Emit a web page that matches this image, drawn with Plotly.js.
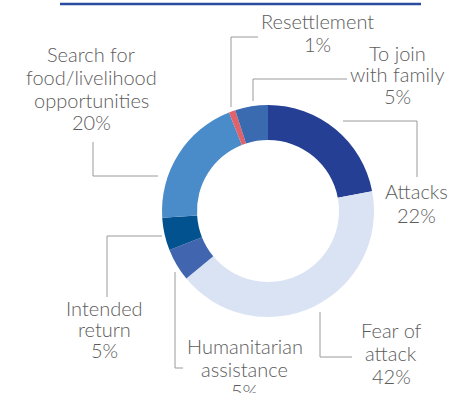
<!DOCTYPE html>
<html>
<head>
<meta charset="utf-8">
<script src="https://cdn.plot.ly/plotly-3.0.1.min.js"></script>
<style>html,body{margin:0;padding:0;background:#fff;}#chart{width:450px;height:393px;}</style>
</head>
<body>
<div id="chart"></div>
<script>
// Data
var categories = ["Attacks", "Fear of attack", "Humanitarian assistance", "Intended return",
                  "Search for food/livelihood opportunities", "Resettlement", "To join with family"];
var values = [22, 42, 5, 5, 20, 1, 5];
var labelLines = [["Attacks"], ["Fear of", "attack"], ["Humanitarian", "assistance"], ["Intended", "return"],
                  ["Search for", "food/livelihood", "opportunities"], ["Resettlement"], ["To join", "with family"]];
var colors = ["#243f93", "#dae3f3", "#4265b0", "#01528f", "#4a8bc9", "#e0626a", "#3a6ab0"];

var W = 450, H = 393;
function px(x){ return x / W; }
function py(y){ return 1 - y / H; }

// pie geometry (pixels)
var cx = 268, cy = 211, R = 106;

// label placement: [center x, first line center y, line step] in pixels
var labelPos = [[416, 193, 23], [391, 331, 23.3], [245, 347.5, 22.5], [104, 309, 21],
                [91, 56, 22.6], [317, 22.5, 23.3], [397, 54, 21.7]];
var leaders = [
  [[343,121],[417,121],[417,177]],
  [[320,312],[320,357],[352,357]],
  [[175,272],[175,368],[183,368]],
  [[162,236],[107,236],[107,297]],
  [[158,176],[93,176],[93,142]],
  [[231,107],[231,37],[258,37]],
  [[253,101],[253,79],[347,79]]
];

var trace = {
  type: "pie",
  labels: categories,
  values: values,
  sort: false,
  direction: "clockwise",
  rotation: 0,
  hole: 0.67,
  textinfo: "none",
  hoverinfo: "label+percent",
  marker: {colors: colors, line: {width: 0}},
  domain: {x: [px(cx - R), px(cx + R)], y: [py(cy + R), py(cy - R)]},
  showlegend: false
};

var total = values.reduce(function(a,b){return a+b;}, 0);
var annotations = [];
categories.forEach(function(c, i){
  var pct = Math.round(values[i] / total * 100) + "%";
  var lines = labelLines[i].concat([pct]);
  lines.forEach(function(t, k){
    annotations.push({
      xref: "paper", yref: "paper",
      x: px(labelPos[i][0]), y: py(labelPos[i][1] + k * labelPos[i][2] - 1.5),
      xanchor: "center", yanchor: "middle",
      borderpad: 0,
      text: t, showarrow: false, align: "center",
      font: {family: "Lato, 'Open Sans', sans-serif", size: 20, weight: 300, color: "#5c5c5c"}
    });
  });
});

var shapes = leaders.map(function(pts){
  var d = pts.map(function(p, k){ return (k ? "L" : "M") + px(p[0]) + "," + py(p[1]); }).join(" ");
  return {type: "path", xref: "paper", yref: "paper", path: d, line: {color: "#9a9a9a", width: 1}};
});
shapes.push({type: "line", xref: "paper", yref: "paper", x0: px(60), x1: px(421), y0: py(4), y1: py(4),
             line: {color: "#2b4ba0", width: 2.5}});

var layout = {
  width: W, height: H,
  margin: {l: 0, r: 0, t: 0, b: 0},
  paper_bgcolor: "#ffffff",
  plot_bgcolor: "#ffffff",
  annotations: annotations,
  shapes: shapes,
  showlegend: false
};

Plotly.newPlot("chart", [trace], layout, {displayModeBar: false, staticPlot: true});
</script>
</body>
</html>
